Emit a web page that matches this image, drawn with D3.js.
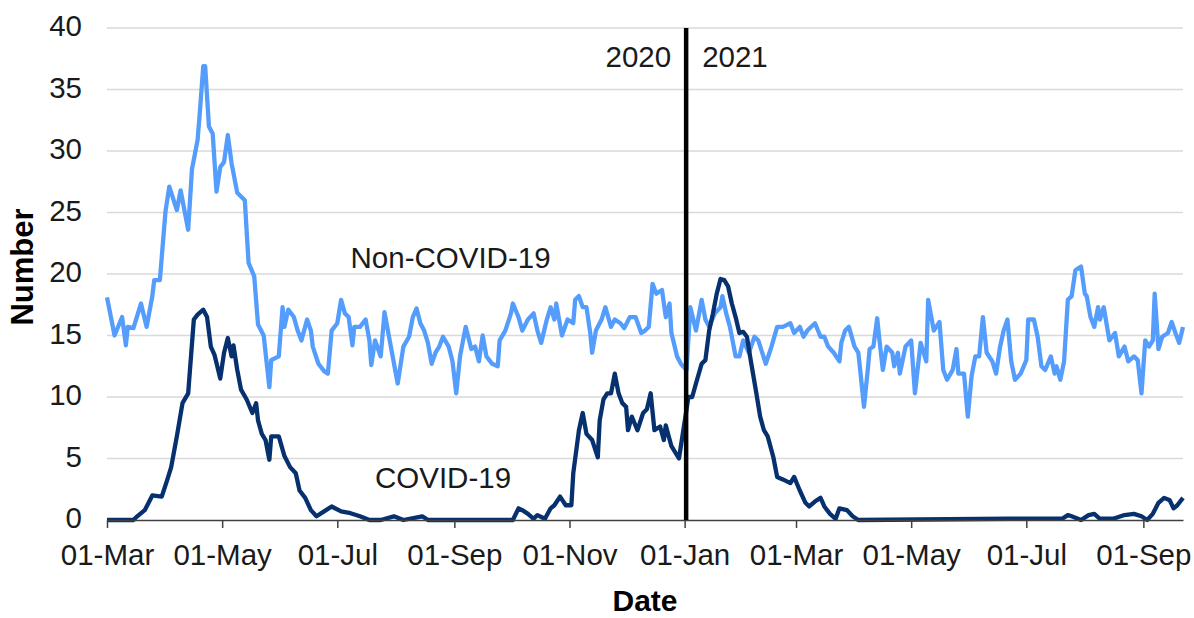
<!DOCTYPE html>
<html><head><meta charset="utf-8">
<script src="https://cdn.jsdelivr.net/npm/d3@7"></script>
<style>
body{margin:0;background:#fff}
text{font-family:"Liberation Sans",Arial,Helvetica,sans-serif}
</style>
</head><body>
<svg id="chart" width="1194" height="618"></svg>
<script>
// ---------------- data ----------------
const startDate = "2020-03-01";
const endDate = "2021-09-22";
const yTicks = [0, 5, 10, 15, 20, 25, 30, 35, 40];
const xTickDates = ["2020-03-01","2020-05-01","2020-07-01","2020-09-01","2020-11-01",
                    "2021-01-01","2021-03-01","2021-05-01","2021-07-01","2021-09-01"];
const yearSplitDate = "2021-01-01";
const yearLabels = ["2020", "2021"];
const seriesNames = ["Non-COVID-19", "COVID-19"];
const xTitle = "Date";
const yTitle = "Number";

// days since 01-Mar-2020
const nonCovidDay = [0,4,8,10,11,14,18,21,24,25,28,31,33,37,39,43,45,48,49,51,52,54,56,58,60,62,64,66,69,73,75,78,80,83,86,87,91,93,
 94,96,99,101,103,106,108,109,112,115,117,119,122,124,126,128,130,131,134,137,139,140,142,145,147,150,153,154,157,160,162,164,166,168,170,172,174,176,178,181,183,185,187,
 190,193,195,197,199,201,204,207,208,211,214,215,218,220,223,226,228,230,233,235,237,238,241,244,247,248,250,252,254,256,257,259,262,264,267,269,272,274,277,280,
 283,285,287,289,291,294,296,298,299,302,304,307,309,312,315,317,319,322,325,326,328,330,333,335,337,340,343,345,349,352,355,358,362,364,367,369,371,375,378,380,
 382,385,388,389,391,393,396,398,399,401,403,404,406,408,409,411,413,416,417,419,420,423,426,428,431,434,435,438,441,443,445,448,450,451,454,456,458,460,462,464,466,469,471,
 473,475,477,479,481,484,487,488,491,493,495,497,500,502,503,505,507,509,511,513,516,518,519,521,523,525,526,528,531,534,536,539,541,544,546,548,550,552,554,555,557,559,562,564,566,568,570];
const nonCovidValue = [18.1,15.0,16.5,14.2,15.7,15.6,17.6,15.7,18.2,19.5,19.5,25.1,27.1,25.2,26.8,23.6,28.5,30.9,32.8,36.9,36.9,32.0,31.4,26.7,28.7,29.1,31.3,29.0,26.6,26.0,20.9,19.8,15.9,15.0,10.8,13.0,13.3,17.3,
 15.7,17.1,16.5,15.4,14.6,16.3,15.4,14.1,12.7,12.1,11.9,15.4,16.0,17.9,16.8,16.5,14.2,15.7,15.7,16.3,14.6,12.6,14.6,13.3,16.9,14.4,11.9,11.1,14.1,14.9,16.5,17.2,16.0,15.4,14.4,12.7,13.6,14.1,14.9,14.1,12.9,10.3,13.3,
 15.7,13.9,14.1,12.9,15.0,13.3,12.7,12.5,14.6,15.4,16.8,17.6,16.5,15.4,16.3,16.8,15.4,14.4,16.3,17.3,16.3,17.6,15.0,16.3,16.0,17.9,18.2,17.3,17.3,15.2,13.6,15.4,16.3,17.3,15.7,16.3,16.0,15.6,16.5,16.5,
 15.2,15.4,15.7,19.2,18.4,18.7,16.5,17.6,15.2,13.3,12.7,12.2,17.3,15.4,17.9,16.3,15.7,16.8,17.3,18.2,16.8,15.7,13.3,13.3,14.6,13.6,14.9,14.6,12.7,14.1,15.7,15.7,16.0,15.2,15.7,14.9,15.4,16.0,14.9,14.9,
 14.1,13.6,12.9,14.4,15.4,15.7,14.1,13.6,12.2,9.2,12.2,13.9,14.1,16.4,14.9,12.2,14.1,13.6,12.5,13.6,11.9,14.1,14.6,10.3,14.4,12.9,17.9,15.4,16.1,12.2,11.4,12.2,13.9,11.9,11.9,8.4,11.7,13.3,13.3,16.5,13.6,12.9,11.9,
 14.0,15.4,16.3,12.9,11.4,11.9,13.0,16.3,16.3,14.9,12.5,12.2,13.3,11.9,12.5,11.4,12.9,17.9,18.2,20.3,20.6,18.4,18.2,16.5,15.7,17.3,16.3,17.3,14.6,15.2,13.3,14.1,12.9,13.3,13.0,10.3,14.6,14.1,14.6,18.4,13.9,14.9,15.2,16.1,15.2,14.4,15.7];

const covidDay = [0,14,16,20,24,29,32,34,37,40,43,46,48,51,53,55,57,60,62,64,66,67,69,71,74,77,79,80,82,84,86,87,91,94,97,100,102,105,108,111,115,119,124,129,134,139,145,152,157,167,170,215,
 218,220,223,226,228,232,235,237,240,243,246,247,250,252,254,257,260,261,263,265,267,269,271,273,275,276,278,281,284,286,288,290,293,295,296,299,303,305,308,310,312,315,317,319,321,323,325,327,329,331,333,335,337,339,341,344,346,348,350,353,355,358,362,364,367,370,372,375,378,380,383,386,388,392,395,398,
 478,490,505,506,509,511,516,520,523,526,533,539,544,548,551,554,557,560,563,565,567,570];
const covidValue = [0,0,0.3,0.8,2.0,1.9,3.3,4.3,6.8,9.5,10.3,16.3,16.7,17.1,16.5,14.1,13.4,11.5,13.6,14.8,13.3,14.2,12.2,10.6,9.8,8.7,9.5,8.1,7.0,6.5,4.9,6.8,6.8,5.2,4.3,3.8,2.4,1.8,0.8,0.3,0.7,1.1,0.7,0.55,0.3,0,0,0.3,0,0.3,0,0,
 0.95,0.8,0.5,0.1,0.4,0.1,0.95,1.2,1.9,1.2,1.2,3.8,7.3,8.7,7.0,6.5,5.1,8.1,9.8,10.3,10.3,11.9,10.3,9.5,9.2,7.3,8.4,7.3,8.7,9.0,10.3,7.3,7.6,6.5,7.7,6.0,5.0,7.0,10.0,10.0,11.1,12.7,13.0,15.4,16.8,18.4,19.6,19.5,19.0,17.6,16.5,15.2,15.3,14.9,13.0,10.3,8.4,7.3,6.8,5.1,3.5,3.3,3.0,3.5,2.4,1.4,1.1,1.5,1.8,1.1,0.5,0.1,0.95,0.8,0.3,0,
 0.1,0.1,0.1,0.1,0.4,0.3,0,0.4,0.5,0.1,0.1,0.4,0.5,0.3,0,0.5,1.4,1.8,1.6,0.95,1.2,1.8];

// ---------------- chart ----------------
const W = 1194, H = 618;
const margin = {top: 28, right: 11, bottom: 98, left: 107};
const parse = d3.utcParse("%Y-%m-%d");
const t0 = parse(startDate), t1 = parse(endDate);

const x = d3.scaleUtc().domain([t0, t1]).range([margin.left, W - margin.right]);
const y = d3.scaleLinear().domain([0, 40]).range([H - margin.bottom, margin.top]);

const svg = d3.select("#chart");
const fontSize = 29.5;
const textColor = "#1a1a1a";

// gridlines
svg.append("g").selectAll("line").data(yTicks.filter(v => v > 0)).join("line")
  .attr("x1", margin.left).attr("x2", W - margin.right)
  .attr("y1", d => y(d)).attr("y2", d => y(d))
  .attr("stroke", "#d9d9d9").attr("stroke-width", 1.5);

// y tick labels
const yAxis = svg.append("g").attr("transform", `translate(${margin.left},0)`)
  .call(d3.axisLeft(y).tickValues(yTicks).tickSize(0).tickPadding(25));
yAxis.select(".domain").remove();
yAxis.selectAll("text").attr("font-size", fontSize).attr("fill", textColor)
  .style("font-family", '"Liberation Sans", Arial, sans-serif').attr("dy", "0.26em");

// series lines
const toPts = (days, vals) => days.map((d, i) => [d3.utcDay.offset(t0, d), vals[i]]);
const line = d3.line().x(d => x(d[0])).y(d => y(d[1])).curve(d3.curveLinear);

svg.append("path").datum(toPts(nonCovidDay, nonCovidValue))
  .attr("d", line).attr("fill", "none").attr("stroke", "#559dfc")
  .attr("stroke-width", 4.3).attr("stroke-linejoin", "round");
svg.append("path").datum(toPts(covidDay, covidValue))
  .attr("d", line).attr("fill", "none").attr("stroke", "#06306e")
  .attr("stroke-width", 4.3).attr("stroke-linejoin", "round");

// x axis
const xAxis = svg.append("g").attr("transform", `translate(0,${H - margin.bottom})`)
  .call(d3.axisBottom(x).tickValues(xTickDates.map(parse))
    .tickFormat(d3.utcFormat("%d-%b")).tickSizeInner(8).tickSizeOuter(0).tickPadding(16));
xAxis.select(".domain").attr("stroke", "#404040").attr("stroke-width", 1.5);
xAxis.selectAll(".tick line").attr("stroke", "#404040").attr("stroke-width", 1.5);
xAxis.selectAll("text").attr("font-size", fontSize).attr("fill", textColor)
  .style("font-family", '"Liberation Sans", Arial, sans-serif');

// year separator
const xs = x(parse(yearSplitDate)) + 1.5;
svg.append("line").attr("x1", xs).attr("x2", xs)
  .attr("y1", y(40)).attr("y2", y(0))
  .attr("stroke", "#000").attr("stroke-width", 4.5);
svg.append("text").attr("x", xs - 15).attr("y", y(36.8)).attr("text-anchor", "end")
  .attr("font-size", fontSize).attr("fill", textColor).text(yearLabels[0]);
svg.append("text").attr("x", xs + 16).attr("y", y(36.8)).attr("text-anchor", "start")
  .attr("font-size", fontSize).attr("fill", textColor).text(yearLabels[1]);

// series labels
svg.append("text").attr("x", x(d3.utcDay.offset(t0, 182))).attr("y", y(20.5))
  .attr("text-anchor", "middle").attr("font-size", fontSize).attr("fill", textColor).text(seriesNames[0]);
svg.append("text").attr("x", x(d3.utcDay.offset(t0, 178))).attr("y", y(2.6))
  .attr("text-anchor", "middle").attr("font-size", fontSize).attr("fill", textColor).text(seriesNames[1]);

// axis titles
svg.append("text").attr("x", (margin.left + W - margin.right) / 2).attr("y", 611)
  .attr("text-anchor", "middle").attr("font-size", 30).attr("font-weight", "bold")
  .attr("fill", "#000").text(xTitle);
svg.append("text").attr("transform", `translate(33,${(margin.top + H - margin.bottom) / 2 - 7}) rotate(-90)`)
  .attr("text-anchor", "middle").attr("font-size", 31).attr("font-weight", "bold")
  .attr("fill", "#000").text(yTitle);
</script>
</body></html>
